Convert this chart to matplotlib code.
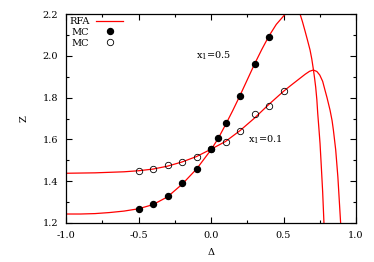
import numpy as np
import matplotlib
matplotlib.use('Agg')
from matplotlib import pyplot as plt
from matplotlib.ticker import MultipleLocator

plt.rcParams['font.family'] = ['DejaVu Serif']
plt.rcParams['mathtext.fontset'] = 'dejavuserif'
plt.rcParams['font.size'] = 6.5

# RFA curves
rfa05_d = [-1.0, -0.9, -0.8, -0.7, -0.6, -0.5, -0.4, -0.3, -0.2, -0.1, 0.0, 0.05,
           0.1, 0.15, 0.2, 0.25, 0.3, 0.35, 0.4, 0.45, 0.5, 0.53, 0.56, 0.59, 0.614,
           0.63, 0.648, 0.665, 0.683, 0.695, 0.706, 0.714, 0.722, 0.73, 0.736, 0.745,
           0.752, 0.76, 0.77, 0.779, 0.79]
rfa05_z = [1.243, 1.243, 1.245, 1.250, 1.257, 1.268, 1.288, 1.325, 1.385, 1.458, 1.550, 1.605,
           1.670, 1.738, 1.810, 1.885, 1.960, 2.030, 2.095, 2.150, 2.190, 2.212, 2.222, 2.215, 2.200,
           2.165, 2.120, 2.076, 2.028, 1.985, 1.935, 1.895, 1.850, 1.790, 1.725, 1.645,
           1.580, 1.480, 1.350, 1.200, 1.000]

rfa01_d = [-1.0, -0.8, -0.6, -0.5, -0.4, -0.3, -0.2, -0.1, 0.0, 0.1, 0.2, 0.3,
           0.4, 0.5, 0.55, 0.6, 0.65, 0.68, 0.706, 0.73, 0.75, 0.77, 0.786, 0.8,
           0.821, 0.835, 0.844, 0.86, 0.875, 0.894, 0.91]
rfa01_z = [1.438, 1.440, 1.445, 1.450, 1.458, 1.472, 1.492, 1.518, 1.553, 1.590, 1.642, 1.702,
           1.768, 1.830, 1.858, 1.885, 1.912, 1.926, 1.932, 1.925, 1.908, 1.878, 1.836, 1.800,
           1.740, 1.690, 1.645, 1.550, 1.420, 1.200, 1.000]

# MC x1=0.5 (filled)
mc05_d = [-0.5, -0.4, -0.3, -0.2, -0.1, 0.0, 0.05, 0.1, 0.2, 0.3, 0.4]
mc05_z = [1.268, 1.289, 1.329, 1.390, 1.457, 1.556, 1.609, 1.680, 1.809, 1.960, 2.090]

# MC x1=0.1 (open)
mc01_d = [-0.5, -0.4, -0.3, -0.2, -0.1, 0.0, 0.1, 0.2, 0.3, 0.4, 0.5]
mc01_z = [1.449, 1.458, 1.479, 1.491, 1.518, 1.556, 1.588, 1.639, 1.720, 1.760, 1.830]

fig = plt.figure(figsize=(3.74, 2.62), dpi=100)
ax = fig.add_axes([66/374, 39/262, 290/374, 209/262])

ax.plot(rfa05_d, rfa05_z, color='red', lw=0.9, label='RFA')
ax.plot(rfa01_d, rfa01_z, color='red', lw=0.9)
ax.plot(mc05_d, mc05_z, 'o', color='black', ms=4.3, label='MC')
ax.plot(mc01_d, mc01_z, 'o', mfc='none', mec='black', mew=0.6, ms=4.6, label='MC')

ax.text(-0.1, 2.0, 'x$_1$=0.5', ha='left', va='center', fontsize=7)
ax.text(0.255, 1.60, 'x$_1$=0.1', ha='left', va='center', fontsize=7)

ax.set_xlim(-1.0, 1.0)
ax.set_ylim(1.2, 2.2)
ax.xaxis.set_major_locator(MultipleLocator(0.5))
ax.xaxis.set_minor_locator(MultipleLocator(0.25))
ax.yaxis.set_major_locator(MultipleLocator(0.2))
ax.yaxis.set_minor_locator(MultipleLocator(0.1))
ax.xaxis.set_major_formatter(plt.FormatStrFormatter('%.1f'))
ax.yaxis.set_major_formatter(plt.FormatStrFormatter('%.1f'))
ax.tick_params(which='both', direction='in', top=True, right=True, width=0.8)
ax.tick_params(which='major', length=4.5, pad=5.5, labelsize=7)
ax.tick_params(which='minor', length=2.5)
for s in ax.spines.values():
    s.set_linewidth(0.9)

ax.set_xlabel('Δ', fontsize=7)
ax.set_ylabel('Z', fontsize=7)
ax.xaxis.set_label_coords(0.5, -0.12)
ax.yaxis.set_label_coords(-0.13, 0.5)

ax.legend(loc='upper left', markerfirst=False, frameon=False, fontsize=7,
          handlelength=2.8, handletextpad=0.7, labelspacing=0.2,
          borderaxespad=0.2, borderpad=0.1)

plt.savefig('out.png', dpi=100)
